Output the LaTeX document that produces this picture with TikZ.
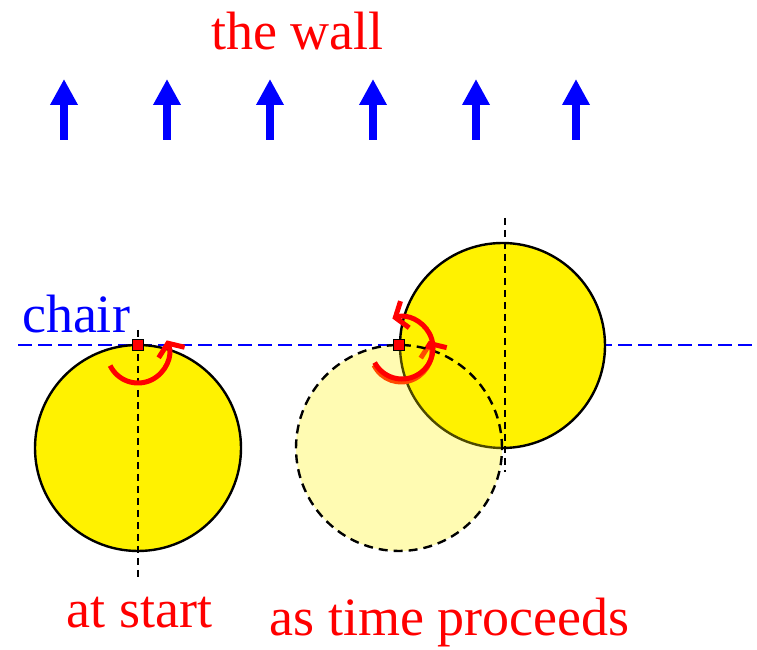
\documentclass[tikz,border=0pt]{standalone}
\usepackage{fontspec}
\newfontfamily\timesfont{LiberationSerif-Regular.ttf}
\usetikzlibrary{arrows.meta,calc}
\begin{document}
\begin{tikzpicture}[x=1pt,y=1pt,
  ball/.style={circle,draw=black,line width=2.4pt,fill=yellow,inner sep=0pt,minimum size=206pt},
  ghost/.style={circle,draw=black,line width=2.4pt,dash pattern=on 9pt off 6pt,fill=yellow,fill opacity=0.3,draw opacity=1,inner sep=0pt,minimum size=206pt},
  axis/.style={draw=black,line width=1.6pt,dash pattern=on 7pt off 5pt},
  chairline/.style={draw=blue,line width=1.8pt,dash pattern=on 14pt off 6pt},
  wallarrow/.style={draw=blue,line width=8pt,-{Triangle[length=26pt,width=26pt]}},
  spin/.style={draw=red,line width=5pt,-{Straight Barb[length=10pt,width=28pt]}},
  pivot/.style={rectangle,draw=black,line width=1.4pt,fill=red,inner sep=0pt,minimum size=11pt},
  lbl/.style={inner sep=0pt,anchor=base,font=\timesfont\fontsize{54}{60}\selectfont}]
\useasboundingbox (0,0) rectangle (757,650);
% labels
\node[lbl,text=red] (wall) at (297.5,600) {the wall};
\node[lbl,text=blue] (chair) at (76,317) {chair};
\node[lbl,text=red] (start) at (139.5,22) {at start};
\node[lbl,text=red] (proc) at (449.5,14) {as time proceeds};
% wall arrows
\foreach \i/\x in {1/64,2/167,3/270,4/373,5/476,6/576}{
  \coordinate (wa\i) at (\x,510);
  \coordinate (wb\i) at (\x,571);
  \draw[wallarrow] (wa\i) -- (wb\i);
}
% chair line
\coordinate (cl1) at (18,305);
\coordinate (cl2) at (757,305);
\draw[chairline] (cl1) -- (cl2);
% left ball
\node[ball] (b1) at (138,202) {};
\coordinate (v1a) at (138,320);
\coordinate (v1b) at (138,73);
\draw[axis] (v1a) -- (v1b);
% right ball
\node[ball,minimum size=205pt] (b2) at (502.5,304.5) {};
\coordinate (v2a) at (505,432);
\coordinate (v2b) at (505,178);
\draw[axis] (v2a) -- (v2b);
% spin arrows and ghost ball
\coordinate (ac1) at (138,298);
\draw[spin] ($(ac1)+(206:31)$) arc[start angle=206,end angle=382,radius=31];
\coordinate (ac2) at (401,298);
\draw[spin] ($(ac2)+(206:30)$) arc[start angle=206,end angle=382,radius=30];
\node[ghost] (g) at (399,202) {};
\coordinate (ac3) at (402,302);
\draw[spin] ($(ac3)+(208:31)$) arc[start angle=208,end angle=468,radius=31];
% pivots
\node[pivot] (p1) at (138,305) {};
\node[pivot] (p2) at (399,305) {};
\end{tikzpicture}
\end{document}
